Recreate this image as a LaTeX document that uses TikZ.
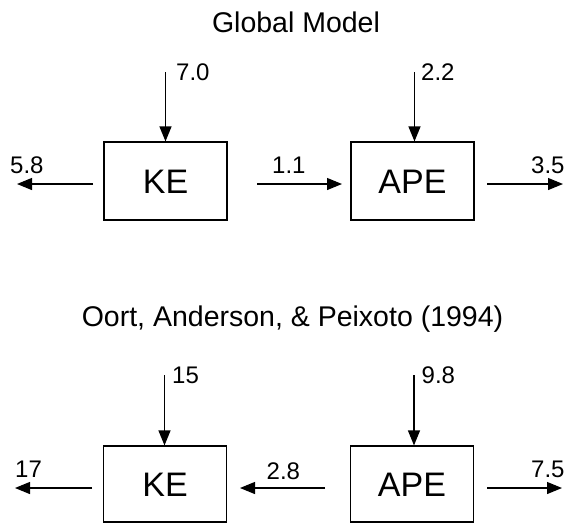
\documentclass[tikz,border=0pt]{standalone}
\usepackage{fontspec}
\setmainfont{Liberation Sans}
\usetikzlibrary{arrows.meta}
\begin{document}
\begin{tikzpicture}[x=1pt,y=-1pt,
  boxnode/.style={draw,line width=1.2pt,minimum width=123pt,minimum height=78pt,inner sep=0pt,
    font=\fontsize{34}{36}\selectfont,text height=24pt,text depth=-7pt},
  titlenode/.style={anchor=base,inner sep=0pt,font=\fontsize{28.5}{30}\selectfont},
  numnode/.style={anchor=base west,inner sep=0pt,font=\fontsize{24}{26}\selectfont},
  flow/.style={line width=1.2pt,-{Triangle[length=15pt,width=12pt]}}]
\useasboundingbox (0,0) rectangle (571,523);
% top section
\node[titlenode] (t1) at (296,32.5) {Global Model};
\node[boxnode] (ke1) at (165.5,181) {KE};
\node[boxnode] (ape1) at (412.5,181) {APE};
\coordinate (ke1in) at (165.5,72);
\coordinate (ape1in) at (414.5,72);
\coordinate (ke1outa) at (93,184);
\coordinate (ke1outb) at (17,184);
\coordinate (mida) at (257,184);
\coordinate (midb) at (342,184);
\coordinate (ape1outa) at (487,184);
\coordinate (ape1outb) at (563,184);
\draw[flow] (ke1in) -- (ke1in |- ke1.north);
\draw[flow] (ape1in) -- (ape1in |- ape1.north);
\draw[flow] (ke1outa) -- (ke1outb);
\draw[flow] (mida) -- (midb);
\draw[flow] (ape1outa) -- (ape1outb);
\node[numnode] (n70) at (176,80) {7.0};
\node[numnode] (n22) at (421,80) {2.2};
\node[numnode] (n58) at (10,173) {5.8};
\node[numnode] (n11) at (272,173) {1.1};
\node[numnode] (n35) at (531,173) {3.5};
% bottom section
\node[titlenode] (t2) at (292.5,326.5) {Oort, Anderson, \& Peixoto (1994)};
\node[boxnode,minimum height=76pt] (ke2) at (165,484) {KE};
\node[boxnode,minimum height=76pt] (ape2) at (412,484) {APE};
\coordinate (ke2in) at (164.5,375);
\coordinate (ape2in) at (414,375);
\coordinate (ke2outa) at (92,488);
\coordinate (ke2outb) at (15,488);
\coordinate (mid2a) at (325,488);
\coordinate (mid2b) at (240,488);
\coordinate (ape2outa) at (487,488);
\coordinate (ape2outb) at (562,488);
\draw[flow] (ke2in) -- (ke2in |- ke2.north);
\draw[flow] (ape2in) -- (ape2in |- ape2.north);
\draw[flow] (ke2outa) -- (ke2outb);
\draw[flow] (mid2a) -- (mid2b);
\draw[flow] (ape2outa) -- (ape2outb);
\node[numnode] (n15) at (172,383) {15};
\node[numnode] (n98) at (421.5,383) {9.8};
\node[numnode] (n17) at (15,477) {17};
\node[numnode] (n28) at (266.5,479) {2.8};
\node[numnode] (n75) at (531,477) {7.5};
\end{tikzpicture}
\end{document}
